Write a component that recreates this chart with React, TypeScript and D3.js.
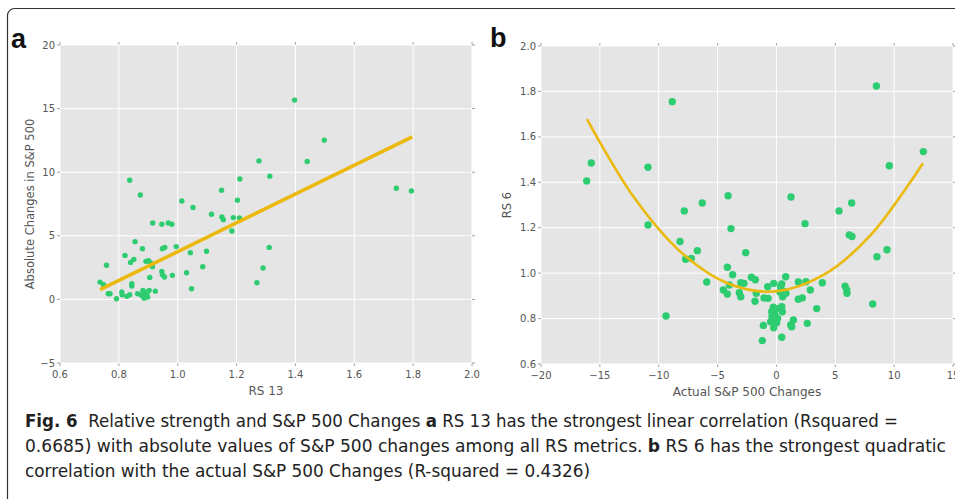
import React from "react";
import * as d3 from "d3";

// panel a: RS 13 vs absolute S&P 500 changes
const rs13 = [
  1.276, 1.313, 0.837, 0.873, 1.211, 1.149, 1.014, 1.052, 1.203, 1.115, 1.15, 1.155,
  1.189, 1.184, 1.21, 0.915, 0.946, 0.968, 0.98, 0.855, 0.88, 0.821, 0.851, 0.84,
  0.758, 0.948, 0.956, 0.995, 1.043, 1.098, 1.085, 1.311, 1.29, 1.269, 0.892, 0.901,
  0.907, 0.914, 0.905, 0.946, 0.948, 0.955, 0.982, 1.03, 1.047, 0.736, 0.748, 0.764,
  0.77, 0.792, 0.81, 0.811, 0.844, 0.844, 0.827, 0.837, 0.864, 0.875, 0.882, 0.888,
  0.892, 0.896, 0.898, 0.903, 0.924, 0.879, 0.886, 1.397, 1.498, 1.44, 1.743, 1.794,
];
const absChange = [
  10.89, 9.69, 9.37, 8.21, 9.47, 8.58, 7.74, 7.22, 7.8, 6.69, 6.48, 6.27,
  6.43, 5.38, 6.4, 6.01, 5.91, 6.01, 5.91, 4.54, 3.99, 3.46, 3.15, 2.91,
  2.68, 3.99, 4.09, 4.15, 3.67, 3.78, 2.57, 4.09, 2.47, 1.31, 2.99, 3.04,
  2.89, 2.57, 1.73, 2.2, 1.94, 1.76, 1.89, 2.1, 0.84, 1.36, 1.16, 0.45,
  0.45, 0.05, 0.58, 0.37, 1.24, 1.05, 0.24, 0.37, 0.45, 0.37, 0.71, 0.58,
  0.31, 0.5, 0.18, 0.71, 0.65, 0.31, 0.1, 15.67, 12.52, 10.84, 8.74, 8.53,
];
const fitAx = [0.736, 1.797];
const fitAy = [0.76, 12.78];
const ticksAx = [0.6, 0.8, 1.0, 1.2, 1.4, 1.6, 1.8, 2.0];
const ticksAy = [-5, 0, 5, 10, 15, 20];

// panel b: actual S&P 500 changes vs RS 6
const spChange = [
  -10.91, -7.83, -6.3, -4.11, -3.86, -8.19, -6.72, -7.71, -7.23, -5.92, -9.38, -2.61,
  -4.17, -3.72, -4.51, -4.17, -4.0, -3.15, -3.03, -3.03, -2.75, -2.13, -1.79, -1.71,
  -1.82, -0.74, -0.23, -1.05, -0.71, 0.45, 0.79, 0.3, 0.53, 0.81, -0.26, 0.02,
  0.45, -0.38, -0.12, -0.49, 0.02, -0.23, -1.11, -1.2, 0.45, 1.21, 1.44, 1.3,
  2.62, 1.86, 2.51, 1.86, 2.2, 2.88, 3.9, 3.42, 1.24, 2.43, 5.32, 6.39,
  6.19, 6.42, 9.39, 8.54, 5.83, 5.97, 6.0, 8.18, -16.12, -15.73, -10.91, -8.85,
  8.49, 12.48, 9.59, -0.4, 0.5, 0.1, 0.6, 0.35,
];
const rs6 = [
  1.212, 1.274, 1.309, 1.341, 1.196, 1.139, 1.099, 1.061, 1.065, 0.961, 0.811, 1.09,
  1.026, 0.993, 0.926, 0.908, 0.948, 0.914, 0.896, 0.958, 0.955, 0.982, 0.971, 0.911,
  0.876, 0.94, 0.955, 0.891, 0.889, 0.952, 0.984, 0.917, 0.896, 0.911, 0.85, 0.844,
  0.852, 0.808, 0.816, 0.786, 0.782, 0.76, 0.77, 0.703, 0.718, 0.772, 0.794, 0.764,
  0.779, 0.961, 0.962, 0.885, 0.891, 0.926, 0.958, 0.844, 1.335, 1.218, 1.274, 1.309,
  1.168, 1.161, 1.103, 1.072, 0.943, 0.926, 0.911, 0.864, 1.406, 1.485, 1.466, 1.755,
  1.824, 1.535, 1.473, 0.83, 0.83, 0.8, 0.92, 0.94,
];
const fitBx = [-16.1, -12, -8, -4, 0, 4, 8, 12.45];
const fitBy = [1.678, 1.326, 1.087, 0.952, 0.92, 0.992, 1.167, 1.484];
const ticksBx = [-20, -15, -10, -5, 0, 5, 10, 15];
const ticksBy = [0.6, 0.8, 1.0, 1.2, 1.4, 1.6, 1.8, 2.0];

const DOT = "#2ecc71";
const FIT = "#ebb90e";
const TXT = "#555";
const FONT = "'DejaVu Sans', 'Open Sans', sans-serif";

const minus = (s: string) => s.replace("-", "\u2212");

const Panel = ({ box, xDomain, yDomain, xTicks, yTicks, xFmt, yFmt, xs, ys, r, fx, fy, fw, curve, xLabel, yLabel, yLabelX }: any) => {
  const x = d3.scaleLinear().domain(xDomain).range([box.x0, box.x1]);
  const y = d3.scaleLinear().domain(yDomain).range([box.y1, box.y0]);
  const line = d3
    .line<number>()
    .x((d) => x(fx[d]))
    .y((d) => y(fy[d]))
    .curve(curve);
  const idx = d3.range(fx.length);
  const cx = (box.x0 + box.x1) / 2;
  const cy = (box.y0 + box.y1) / 2;
  return (
    <g>
      <rect x={box.x0} y={box.y0} width={box.x1 - box.x0} height={box.y1 - box.y0} fill="#e5e5e5" />
      {xTicks.map((t: number) => (
        <g key={"x" + t}>
          <line x1={x(t)} x2={x(t)} y1={box.y0} y2={box.y1} stroke="#fff" strokeWidth={1} />
          <line x1={x(t)} x2={x(t)} y1={box.y1} y2={box.y1 + 3} stroke="#888" strokeWidth={0.8} />
          <line x1={x(t)} x2={x(t)} y1={box.y0} y2={box.y0 - 3} stroke="#888" strokeWidth={0.8} />
          <text x={x(t)} y={box.y1 + 15} textAnchor="middle" fontSize={10} fill={TXT} fontFamily={FONT}>
            {minus(xFmt(t))}
          </text>
        </g>
      ))}
      {yTicks.map((t: number) => (
        <g key={"y" + t}>
          <line x1={box.x0} x2={box.x1} y1={y(t)} y2={y(t)} stroke="#fff" strokeWidth={1} />
          <line x1={box.x0 - 3} x2={box.x0} y1={y(t)} y2={y(t)} stroke="#888" strokeWidth={0.8} />
          <line x1={box.x1} x2={box.x1 + 3} y1={y(t)} y2={y(t)} stroke="#888" strokeWidth={0.8} />
          <text x={box.x0 - 5} y={y(t) + 3.5} textAnchor="end" fontSize={10} fill={TXT} fontFamily={FONT}>
            {minus(yFmt(t))}
          </text>
        </g>
      ))}
      {xs.map((v: number, i: number) => (
        <circle key={i} cx={x(v)} cy={y(ys[i])} r={r} fill={DOT} />
      ))}
      <path d={line(idx) || ""} fill="none" stroke={FIT} strokeWidth={fw} strokeLinecap="butt" />
      <text x={cx} y={box.y1 + 32} textAnchor="middle" fontSize={12} fill={TXT} fontFamily={FONT}>
        {xLabel}
      </text>
      <text
        transform={`translate(${yLabelX},${cy}) rotate(-90)`}
        textAnchor="middle"
        fontSize={11.5}
        fill={TXT}
        fontFamily={FONT}
      >
        {yLabel}
      </text>
    </g>
  );
};

export default function App() {
  const capFont = "'Liberation Sans Narrow', 'DejaVu Sans Condensed', 'Roboto', sans-serif";
  return (
    <svg
      width={955}
      height={499}
      style={{ position: "fixed", left: 0, top: 0, background: "#fff" }}
    >
      <rect x={7.5} y={8.5} width={970} height={510} rx={7} fill="none" stroke="#333" strokeWidth={1.2} />
      <Panel
        box={{ x0: 60, x1: 472, y0: 45, y1: 363 }}
        xDomain={[0.6, 2.0]}
        yDomain={[-5, 20]}
        xTicks={ticksAx}
        yTicks={ticksAy}
        xFmt={d3.format(".1f")}
        yFmt={d3.format("d")}
        xs={rs13}
        ys={absChange}
        r={2.7}
        fx={fitAx}
        fy={fitAy}
        fw={3.6}
        curve={d3.curveLinear}
        xLabel="RS 13"
        yLabel="Absolute Changes in S&P 500"
        yLabelX={34}
      />
      <Panel
        box={{ x0: 541, x1: 953, y0: 46, y1: 364 }}
        xDomain={[-20, 15]}
        yDomain={[0.6, 2.0]}
        xTicks={ticksBx}
        yTicks={ticksBy}
        xFmt={d3.format("d")}
        yFmt={d3.format(".1f")}
        xs={spChange}
        ys={rs6}
        r={3.7}
        fx={fitBx}
        fy={fitBy}
        fw={2.6}
        curve={d3.curveCatmullRom}
        xLabel="Actual S&P 500 Changes"
        yLabel="RS 6"
        yLabelX={511}
      />
      <text x={11} y={48} fontSize={27} fontWeight="bold" fontFamily="'Liberation Sans', Arial, sans-serif" fill="#111">
        a
      </text>
      <text x={490} y={47} fontSize={27} fontWeight="bold" fontFamily="'Liberation Sans', Arial, sans-serif" fill="#111">
        b
      </text>
      <g fontFamily={capFont} fontSize={17.5} fill="#222">
        <text x={25} y={427} textLength={873} lengthAdjust="spacingAndGlyphs">
          <tspan fontWeight="bold">Fig. 6</tspan>
          <tspan>{"\u00a0 Relative strength and S&P 500 Changes "}</tspan>
          <tspan fontWeight="bold">a</tspan>
          <tspan>{" RS 13 has the strongest linear correlation (Rsquared ="}</tspan>
        </text>
        <text x={25} y={452} textLength={921} lengthAdjust="spacingAndGlyphs">
          <tspan>{"0.6685) with absolute values of S&P 500 changes among all RS metrics. "}</tspan>
          <tspan fontWeight="bold">b</tspan>
          <tspan>{" RS 6 has the strongest quadratic"}</tspan>
        </text>
        <text x={25} y={477} textLength={565} lengthAdjust="spacingAndGlyphs">
          correlation with the actual S&amp;P 500 Changes (R-squared = 0.4326)
        </text>
      </g>
    </svg>
  );
}
